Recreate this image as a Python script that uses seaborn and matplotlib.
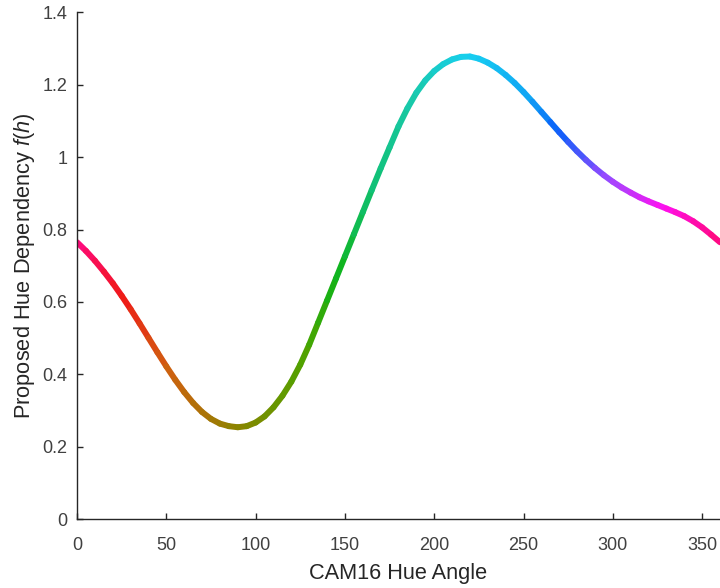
import numpy as np
import pandas as pd
import seaborn as sns
import matplotlib.pyplot as plt
from matplotlib.colors import LinearSegmentedColormap
from matplotlib.ticker import FormatStrFormatter

# hue angle (deg) and proposed hue dependency
hue_angle = list(range(0, 365, 5))
dependency = [0.765, 0.741, 0.714, 0.684, 0.652, 0.617, 0.580, 0.541, 0.501, 0.461,
              0.422, 0.385, 0.351, 0.321, 0.296, 0.277, 0.264, 0.257, 0.254, 0.257,
              0.267, 0.284, 0.309, 0.341, 0.380, 0.427, 0.482, 0.543, 0.604, 0.665,
              0.726, 0.787, 0.848, 0.909, 0.969, 1.027, 1.085, 1.135, 1.178, 1.212,
              1.238, 1.257, 1.270, 1.277, 1.278, 1.272, 1.261, 1.246, 1.227, 1.205,
              1.180, 1.153, 1.125, 1.097, 1.069, 1.042, 1.016, 0.992, 0.970, 0.950,
              0.932, 0.916, 0.902, 0.889, 0.878, 0.868, 0.858, 0.848, 0.837, 0.823,
              0.806, 0.786, 0.765]

# colour of the line along the hue circle
color_hues = [0, 25, 50, 90, 130, 145, 165, 185, 220, 255, 270, 300, 330, 360]
color_stops = ['#ff0a80', '#f01818', '#d06010', '#8c8400', '#4ca400', '#10b418',
               '#10c070', '#18c8a4', '#18d0f0', '#10a4f4', '#0a60f8', '#a048ff',
               '#ff10f0', '#ff0a80']

x_ticks = [0, 50, 100, 150, 200, 250, 300, 350]
y_ticks = [0, 0.2, 0.4, 0.6, 0.8, 1.0, 1.2, 1.4]


def build_segments():
    # one short line per pair of neighbouring samples, so each can get its own colour
    rows = []
    for i in range(len(hue_angle) - 1):
        for j in (i, i + 1):
            rows.append({'seg': i, 'hue': hue_angle[j], 'f': dependency[j]})
    return pd.DataFrame(rows)


def main():
    sns.set_style('ticks')
    plt.rcParams['font.family'] = ['Liberation Sans', 'DejaVu Sans']
    plt.rcParams['mathtext.fontset'] = 'custom'
    plt.rcParams['mathtext.rm'] = 'Liberation Sans'
    plt.rcParams['mathtext.it'] = 'Liberation Sans:italic'

    cmap = LinearSegmentedColormap.from_list(
        'hue', list(zip(np.array(color_hues) / 360.0, color_stops)))
    seg_df = build_segments()
    mids = [(hue_angle[i] + hue_angle[i + 1]) / 2 for i in range(len(hue_angle) - 1)]
    palette = [cmap(m / 360.0) for m in mids]

    fig = plt.figure(figsize=(7.2, 5.88), dpi=100)
    ax = fig.add_axes([0.107, 0.117, 0.893, 0.862])

    sns.lineplot(data=seg_df, x='hue', y='f', hue='seg', palette=palette,
                 estimator=None, sort=False, legend=False, linewidth=4.3,
                 solid_capstyle='round', ax=ax)

    ax.set_xlim(0, 360)
    ax.set_ylim(0, 1.4)
    ax.set_xticks(x_ticks)
    ax.set_yticks(y_ticks)
    ax.yaxis.set_major_formatter(FormatStrFormatter('%g'))
    ax.tick_params(direction='in', length=4, width=1, colors='#262626',
                   labelsize=13, labelcolor='#404040')
    ax.tick_params(axis='x', pad=13)
    ax.tick_params(axis='y', pad=7)
    for side in ('left', 'bottom'):
        ax.spines[side].set_color('#262626')
        ax.spines[side].set_linewidth(1)
    sns.despine(ax=ax)

    ax.set_xlabel('CAM16 Hue Angle', fontsize=15.7, color='#262626', labelpad=6)
    ax.set_ylabel('Proposed Hue Dependency $\\mathit{f(h)}$', fontsize=15.7,
                  color='#262626', labelpad=3.5)

    fig.savefig('out.png', dpi=100)


if __name__ == '__main__':
    main()
